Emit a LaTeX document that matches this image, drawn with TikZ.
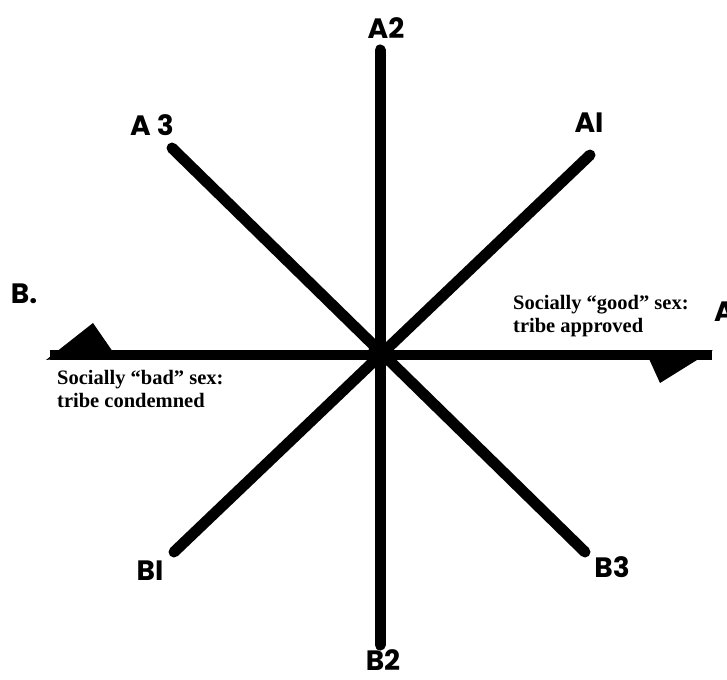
\documentclass[tikz,border=0pt]{standalone}
\usepackage{fontspec}
\setmainfont{Liberation Serif}
\newfontfamily\handfont{Poppins}
\begin{document}
\begin{tikzpicture}[x=1pt,y=-1pt,
  axis/.style={line width=11pt,line cap=round},
  hlabel/.style={font=\handfont\bfseries\fontsize{28}{30}\selectfont,inner sep=1pt},
  caption/.style={font=\bfseries\fontsize{20.5}{23}\selectfont,align=left,inner sep=0pt}]
\useasboundingbox (0,0) rectangle (727,679);
% endpoints
\coordinate (c) at (380,353);
\coordinate (pA2) at (380,50);
\coordinate (pB2) at (380,645);
\coordinate (pA3) at (172,148);
\coordinate (pB3) at (585,552);
\coordinate (pA1) at (590,155);
\coordinate (pB1) at (174,552);
\coordinate (pBL) at (50,355);
\coordinate (pAR) at (712,355);
% axes
\draw[axis] (pA2) -- (pB2);
\draw[axis] (pA3) -- (pB3);
\draw[axis] (pA1) -- (pB1);
\draw[line width=10pt] (pBL) -- (pAR);
\fill (c) circle (12);
% arrowheads
\fill (46,360) -- (93,323) -- (113,352) -- cycle;
\fill (645,350) -- (713,350) -- (660,383) -- cycle;
% labels
\node[hlabel] (lA2) at (386,28) {A2};
\node[hlabel] (lA3) at (152,125) {A 3};
\node[hlabel] (lA1) at (589,123) {AI};
\node[hlabel] (lB1) at (150,571) {BI};
\node[hlabel] (lB3) at (612,567) {B3};
\node[hlabel] (lB2) at (383,660) {B2};
\node[hlabel] (lB) at (24,294) {B.};
\node[hlabel,anchor=west] (lA) at (713,312) {A};
\node[caption,anchor=north west] (good) at (513,295) {Socially “good” sex:\\tribe approved};
\node[caption,anchor=north west] (bad) at (57,370) {Socially “bad” sex:\\tribe condemned};
\end{tikzpicture}
\end{document}
